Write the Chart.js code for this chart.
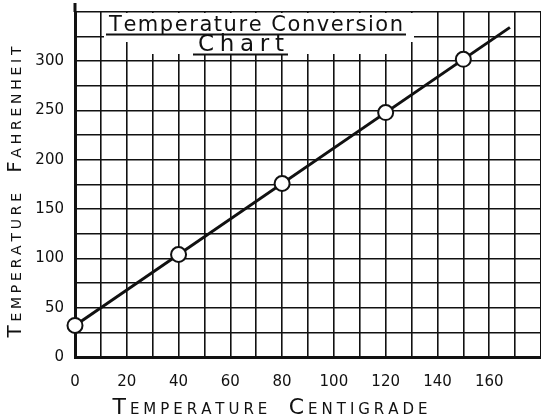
<!DOCTYPE html>
<html>
<head>
<meta charset="utf-8">
<title>Temperature Conversion Chart</title>
<script src="https://cdn.jsdelivr.net/npm/chart.js@4.4.1/dist/chart.umd.min.js"></script>
<style>
  html, body { margin: 0; padding: 0; background: #fff; }
  canvas { display: block; }
</style>
</head>
<body>
<canvas id="chart" width="541" height="420"></canvas>
<script>
// readings plotted as circles
const centigrade = [0, 40, 80, 120, 150];
const fahrenheit = [32, 104, 176, 248, 302];
// ends of the ruled conversion line
const lineCentigrade = [0, 168];
const lineFahrenheit = [32, 334.4];
// labelled ticks
const xTickLabels = [0, 20, 40, 60, 80, 100, 120, 140, 160];
const yTickLabels = [0, 50, 100, 150, 200, 250, 300];

const FONT = "DejaVu Sans";
const INK = "#111";

function toPoints(xs, ys) {
  return xs.map((x, i) => ({ x: x, y: ys[i] }));
}

// draws text char by char, spreading it to fill the given width
function spacedText(ctx, pieces, cx, baseline, width) {
  const chars = [];
  pieces.forEach((p) => {
    ctx.font = p.font;
    for (const ch of p.text) {
      chars.push({ ch: ch, font: p.font, w: ctx.measureText(ch).width });
    }
  });
  const natural = chars.reduce((s, c) => s + c.w, 0);
  const gap = chars.length > 1 ? (width - natural) / (chars.length - 1) : 0;
  let x = cx - width / 2;
  chars.forEach((c) => {
    ctx.font = c.font;
    ctx.fillText(c.ch, x, baseline);
    x += c.w + gap;
  });
}

// big first letter, small capitals for the rest
function smallCaps(words, big, small) {
  const pieces = [];
  words.forEach((w, i) => {
    if (i > 0) pieces.push({ text: "  ", font: `${small}px ${FONT}` });
    pieces.push({ text: w[0], font: `${big}px ${FONT}` });
    pieces.push({ text: w.slice(1).toUpperCase(), font: `${small}px ${FONT}` });
  });
  return pieces;
}

// drop the label padding so the plot area sits exactly where the layout puts it
function noPadding(s) {
  s.paddingTop = 0;
  s.paddingBottom = 0;
  s.paddingLeft = 0;
  s.paddingRight = 0;
}

const lettering = {
  id: "lettering",
  beforeDatasetsDraw(chart) {
    const { ctx, scales: { x, y } } = chart;
    // blank patch of paper behind the heading
    ctx.save();
    ctx.fillStyle = "#fff";
    const box = (x0, x1, y0, y1) => {
      const l = Math.round(x.getPixelForValue(x0));
      const r = Math.round(x.getPixelForValue(x1));
      const t = Math.round(y.getPixelForValue(y1));
      const b = Math.round(y.getPixelForValue(y0));
      ctx.fillRect(l, t, r - l, b - t);
    };
    box(11.2, 131, 320, 348.5);
    box(25, 126, 307, 323);
    ctx.restore();
  },
  afterDraw(chart) {
    const { ctx, chartArea } = chart;
    ctx.save();
    ctx.fillStyle = INK;
    ctx.strokeStyle = INK;
    ctx.textBaseline = "alphabetic";
    ctx.textAlign = "left";

    // left axis runs a little past the top rule
    ctx.lineWidth = 3;
    ctx.beginPath();
    ctx.moveTo(chartArea.left, 3);
    ctx.lineTo(chartArea.left, chartArea.top);
    ctx.stroke();

    // heading
    spacedText(ctx, [{ text: "Temperature Conversion", font: `21px ${FONT}` }], 256, 31, 294);
    spacedText(ctx, [{ text: "Chart", font: `23px ${FONT}` }], 241, 51, 86);
    ctx.lineWidth = 2;
    ctx.beginPath();
    ctx.moveTo(106, 34.5);
    ctx.lineTo(406, 34.5);
    ctx.moveTo(193, 54.5);
    ctx.lineTo(288, 54.5);
    ctx.stroke();

    // axis titles
    spacedText(ctx, smallCaps(["Temperature", "Centigrade"], 22, 15), 270, 414, 315);
    ctx.translate(21, 192);
    ctx.rotate(-Math.PI / 2);
    spacedText(ctx, smallCaps(["Temperature", "Fahrenheit"], 20, 14), 0, 0, 291);
    ctx.restore();
  },
};

new Chart(document.getElementById("chart"), {
  type: "scatter",
  data: {
    datasets: [
      {
        label: "Readings",
        data: toPoints(centigrade, fahrenheit),
        showLine: false,
        pointRadius: 7.5,
        pointBorderWidth: 2,
        pointBackgroundColor: "#fff",
        pointBorderColor: INK,
        clip: false,
      },
      {
        label: "Conversion",
        data: toPoints(lineCentigrade, lineFahrenheit),
        showLine: true,
        borderColor: INK,
        borderWidth: 3,
        pointRadius: 0,
        clip: false,
      },
    ],
  },
  options: {
    responsive: false,
    animation: false,
    layout: { autoPadding: false, padding: { top: 12, left: 0, right: 0, bottom: 0 } },
    plugins: { legend: { display: false }, tooltip: { enabled: false } },
    scales: {
      x: {
        type: "linear",
        min: 0,
        max: 180,
        afterFit: (s) => { s.height = 63; noPadding(s); },
        ticks: {
          stepSize: 10,
          autoSkip: false,
          maxRotation: 0,
          padding: 16,
          color: INK,
          font: { family: FONT, size: 15 },
          callback: (v) => (xTickLabels.includes(v) ? String(v) : ""),
        },
        grid: { color: INK, lineWidth: 1.6, drawTicks: false },
        border: { color: INK, width: 3 },
      },
      y: {
        min: 0,
        max: 350,
        afterFit: (s) => { s.width = 75; noPadding(s); },
        ticks: {
          stepSize: 25,
          autoSkip: false,
          padding: 11,
          color: INK,
          font: { family: FONT, size: 15 },
          callback: (v) => (yTickLabels.includes(v) ? String(v) : ""),
        },
        grid: { color: INK, lineWidth: 1.6, drawTicks: false },
        border: { color: INK, width: 3 },
      },
    },
  },
  plugins: [lettering],
});
</script>
</body>
</html>
